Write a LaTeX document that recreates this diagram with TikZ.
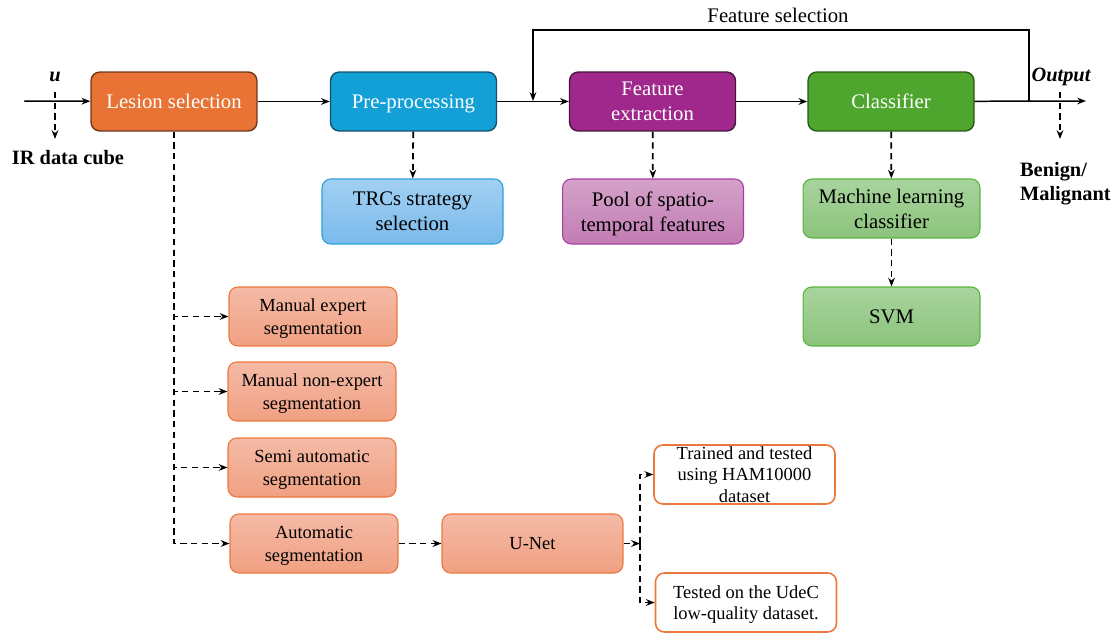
\documentclass[tikz,border=0pt]{standalone}
\usepackage{fontspec}
\setmainfont{Liberation Serif}
\usepackage{tikz}
\usetikzlibrary{arrows.meta,positioning}
\definecolor{LesionOr}  {RGB}{233,115, 52}
\definecolor{LesionDk}  {RGB}{110, 55, 25}
\definecolor{PreBlue}   {RGB}{ 18,160,214}
\definecolor{PreDk}     {RGB}{ 20, 80,110}
\definecolor{FeatPurp}  {RGB}{160, 40,140}
\definecolor{FeatDk}    {RGB}{ 70, 20, 60}
\definecolor{ClsGreen}  {RGB}{ 78,166, 46}
\definecolor{ClsDk}     {RGB}{ 40, 90, 20}
\definecolor{TrcTop}    {RGB}{162,208,242}
\definecolor{TrcBot}    {RGB}{122,186,236}
\definecolor{TrcLine}   {RGB}{ 40,160,220}
\definecolor{PoolTop}   {RGB}{212,162,202}
\definecolor{PoolBot}   {RGB}{194,124,180}
\definecolor{PoolLine}  {RGB}{170, 60,160}
\definecolor{MlTop}     {RGB}{168,212,158}
\definecolor{MlBot}     {RGB}{140,195,124}
\definecolor{MlLine}    {RGB}{ 90,180, 60}
\definecolor{SegTop}    {RGB}{245,186,166}
\definecolor{SegBot}    {RGB}{240,160,130}
\definecolor{SegLine}   {RGB}{236,120, 60}
\newcommand\topstrut{\rule{0pt}{0.96em}}
\newcommand\botstrut{\rule[-0.3em]{0pt}{0.3em}}
\tikzset{
  strutted/.style={execute at begin node=\topstrut, execute at end node=\botstrut},
  multiline/.style={execute at begin node={}, execute at end node={}, text depth=-2pt},
  mainbox/.style={
    rectangle, rounded corners=5pt, line width=0.8pt, strutted,
    minimum width=3.32cm, minimum height=1.18cm, align=center,
    text=white, inner sep=2pt,
    font=\fontsize{11.8}{14}\selectfont
  },
  lesionbox/.style={mainbox, fill=LesionOr, draw=LesionDk},
  prebox/.style   ={mainbox, fill=PreBlue,  draw=PreDk},
  featbox/.style  ={mainbox, fill=FeatPurp, draw=FeatDk, multiline},
  clsbox/.style   ={mainbox, fill=ClsGreen, draw=ClsDk},
  subbox/.style={
    rectangle, rounded corners=5pt, line width=0.6pt, strutted,
    minimum width=3.62cm, minimum height=1.3cm, align=center,
    inner sep=2pt, font=\fontsize{11.8}{14.2}\selectfont
  },
  trcbox/.style ={subbox, top color=TrcTop,  bottom color=TrcBot,  draw=TrcLine},
  poolbox/.style={subbox, top color=PoolTop, bottom color=PoolBot, draw=PoolLine},
  mlbox/.style  ={subbox, top color=MlTop,   bottom color=MlBot,   draw=MlLine,
                  minimum width=3.54cm, minimum height=1.18cm},
  segbox/.style={
    rectangle, rounded corners=5pt, line width=0.6pt, strutted,
    top color=SegTop, bottom color=SegBot, draw=SegLine,
    minimum width=3.36cm, minimum height=1.18cm, align=center,
    inner sep=2pt, font=\fontsize{10.5}{13}\selectfont
  },
  unetbox/.style={segbox, minimum width=3.62cm},
  databox/.style={
    rectangle, rounded corners=5pt, line width=0.9pt, multiline,
    fill=white, draw=SegLine,
    minimum width=3.62cm, minimum height=1.18cm, align=center,
    inner xsep=2pt, inner ysep=0pt, font=\fontsize{10.5}{12.4}\selectfont
  },
  plain/.style={font=\fontsize{11.8}{14}\selectfont, inner sep=1pt},
  boldlab/.style={font=\fontsize{11.6}{13.6}\selectfont\bfseries, inner sep=1pt},
  flow/.style={-{Stealth[length=5pt,width=3.8pt]}, line width=0.85pt},
  tap/.style ={-{Stealth[length=5pt,width=3.8pt]}, line width=1pt,
               dash pattern=on 3.6pt off 2.5pt}
}

\begin{document}
\begin{tikzpicture}[x=0.02cm, y=-0.02cm]
  \useasboundingbox (0,0) rectangle (1118,635);

  % main chain
  \node[lesionbox] (lesion) at (174,101.5) {Lesion selection};
  \node[prebox]    (pre)    at (413.5,101.5) {Pre-processing};
  \node[featbox]   (feat)   at (652.5,101.5) {Feature\\extraction};
  \node[clsbox]    (cls)    at (891,101.5) {Classifier};

  % second row
  \node[trcbox, multiline]  (trc)  at (412.5,211.5) {TRCs strategy\\selection};
  \node[poolbox, multiline] (pool) at (653,211.5)   {Pool of spatio-\\temporal features};
  \node[mlbox, multiline]   (ml)   at (891.5,208.5) {Machine learning\\classifier};
  \node[mlbox]              (svm)  at (891.5,316.5) {SVM};

  % segmentation options
  \node[segbox, multiline] (mexp) at (313,316.5) {Manual expert\\segmentation};
  \node[segbox, multiline] (mnon) at (312,391.5) {Manual non-expert\\segmentation};
  \node[segbox, multiline] (semi) at (312,467.5) {Semi automatic\\segmentation};
  \node[segbox, multiline] (auto) at (314,543.5) {Automatic\\segmentation};
  \node[unetbox] (unet)  at (532.5,543.5) {U-Net};
  \node[databox] (ham)   at (744.5,474.5) {Trained and tested\\using HAM10000\\dataset};
  \node[databox] (udec)  at (746,602.5)   {Tested on the UdeC\\low-quality dataset.};

  % labels
  \node[boldlab, font=\fontsize{11.6}{13.6}\selectfont\bfseries\itshape] (u) at (55,77) {u};
  \node[boldlab] (irdata) at (68,158) {IR data cube};
  \node[boldlab, font=\fontsize{11.6}{13.6}\selectfont\bfseries\itshape] (outlab) at (1061,77) {Output};
  \node[boldlab, align=left, anchor=north west] (benign) at (1018,160) {Benign/\\Malignant};
  \node[plain] (fsel) at (778,15) {Feature selection};

  \coordinate (in)       at (24,101);
  \coordinate (out)      at (1086,101);
  \coordinate (utop)     at (55,92);
  \coordinate (ubot)     at (55,139);
  \coordinate (otop)     at (1060,92);
  \coordinate (obot)     at (1060,139);
  \coordinate (fbtap)    at (1029,101);
  \coordinate (fbcorner) at (533,30);
  \coordinate (fbin)     at (533,101);
  \coordinate (split)    at (640,543.5);

  % solid flow
  \draw[flow] (in) -- (lesion);
  \foreach \a/\b in {lesion/pre, pre/feat, feat/cls}
    \draw[flow] (\a) -- (\b);
  \draw[flow] (cls) -- (out);
  \draw[flow] (fbtap) |- (fbcorner) -- (fbin);

  % dashed taps
  \draw[tap] (utop) -- (ubot);
  \draw[tap] (otop) -- (obot);
  \foreach \a/\b in {pre/trc, feat/pool, cls/ml, ml/svm}
    \draw[tap] (\a) -- (\b);
  \foreach \b in {mexp, mnon, semi, auto}
    \draw[tap] (lesion.south) |- (\b.west);
  \draw[tap] (auto) -- (unet);
  \draw[tap] (unet) -- (split);
  \draw[tap] (split) |- (ham.west);
  \draw[tap] (split) |- (udec.west);
\end{tikzpicture}
\end{document}
